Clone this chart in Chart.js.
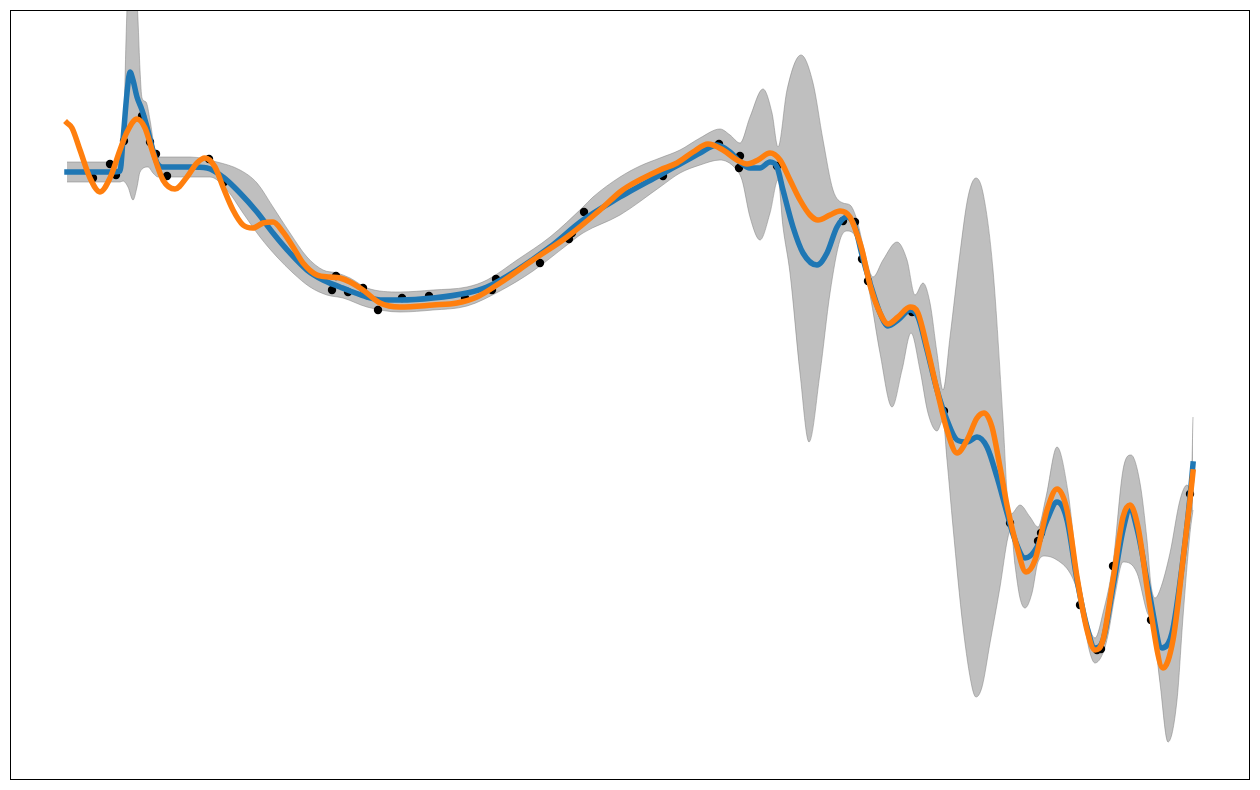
<!DOCTYPE html>
<html>
<head>
<meta charset="utf-8">
<script src="https://cdn.jsdelivr.net/npm/chart.js@4/dist/chart.umd.min.js"></script>
<style>
  html, body { margin: 0; padding: 0; background: #ffffff; }
  canvas { display: block; }
</style>
</head>
<body>
<canvas id="c" width="1260" height="790"></canvas>
<script>
const meanX = [67,90,110,120,123,127,130,133,137,142,147,152,157,162,175,190,207,223,240,257,273,290,307,323,340,350,367,383,400,433,467,487,517,550,583,620,627,660,680,700,717,730,740,750,760,770,777,783,793,803,817,827,837,847,855,862,870,880,888,898,910,918,927,937,947,957,967,977,987,997,1007,1015,1025,1037,1047,1057,1067,1077,1087,1095,1103,1113,1123,1130,1138,1150,1162,1172,1182,1190,1193];
const meanY = [172,172,172,171,140,93,72,80,97,110,127,147,163,167,167,167,168,177,193,212,233,253,270,280,287,291,297,300,300,298,293,287,270,247,220,197,193,175,164,153,145,152,162,168,168,162,167,190,227,253,265,253,227,217,227,255,283,313,326,320,310,317,350,390,420,440,442,437,447,477,513,540,558,547,520,502,520,580,627,648,640,587,530,510,533,597,648,633,567,497,464];

const altX = [67,72,80,90,100,110,120,127,137,145,153,163,175,187,197,205,215,223,233,243,253,263,273,283,293,303,317,330,340,350,363,380,400,433,457,477,500,533,567,600,620,627,660,677,693,708,723,737,747,758,770,780,790,800,810,818,830,840,850,858,862,870,880,888,898,910,918,927,937,947,957,967,977,984,992,1000,1008,1017,1026,1035,1047,1057,1067,1077,1087,1095,1103,1113,1123,1130,1138,1150,1163,1173,1183,1190,1193];
const altY = [123,128,150,178,192,178,150,132,119,128,153,180,189,177,163,158,167,187,210,225,228,223,222,232,247,263,275,277,278,282,290,303,307,305,303,297,283,260,237,210,192,187,170,163,152,144,150,160,164,160,153,160,180,200,215,220,215,211,217,237,250,285,313,324,317,307,313,347,390,430,453,440,418,413,427,467,510,547,572,560,510,489,510,577,630,650,640,580,517,505,527,607,668,640,560,500,472];

const upperX = [67,120,122,124,126,128,132,136,138,140,142,146,150,154,158,190,217,240,257,273,290,307,323,337,350,367,400,433,467,487,517,550,583,593,620,640,660,680,700,720,730,740,750,763,772,778,787,801,813,823,833,843,850,857,863,873,883,897,907,915,923,930,937,943,950,960,968,976,983,993,1003,1008,1011,1020,1030,1038,1046,1057,1068,1075,1080,1087,1095,1103,1113,1123,1131,1140,1147,1151,1155,1160,1170,1180,1187,1191,1193];
const upperY = [162,162,161,120,40,-20,-100,-20,20,70,98,102,120,145,157,157,162,170,183,207,233,257,270,273,278,288,292,290,287,280,260,237,207,197,177,166,158,150,138,129,135,143,117,89,113,147,90,55,83,140,190,203,205,220,245,277,260,242,260,295,283,303,353,390,337,253,197,178,193,270,420,505,514,505,517,527,497,447,492,550,590,620,638,613,563,470,455,483,540,585,598,590,553,500,485,490,417];

const lowerX = [67,120,123,128,133,137,140,148,153,158,210,227,243,260,277,293,310,327,343,367,400,433,467,500,533,567,583,620,660,680,700,720,735,742,750,760,770,778,783,790,800,809,820,830,840,847,855,870,880,892,902,911,920,928,937,943,947,953,963,972,976,982,990,1000,1008,1011,1015,1020,1025,1032,1038,1045,1057,1070,1077,1082,1090,1095,1103,1108,1115,1123,1137,1147,1153,1160,1168,1177,1183,1190,1193];
const lowerY = [182,182,181,187,200,187,172,167,173,177,177,190,213,237,257,273,287,295,298,307,312,310,306,291,271,245,233,215,187,173,165,160,168,180,217,240,213,180,227,273,373,442,373,293,240,231,236,295,353,407,370,333,370,413,431,420,460,527,627,687,697,687,643,587,537,530,565,598,608,593,562,556,560,573,590,612,653,663,653,635,595,562,573,612,625,683,742,700,617,533,510];

const obsX = [93,110,116,124,142,150,156,167,209,224,332,336,348,363,378,402,429,465,492,496,540,569,572,584,663,719,740,739,777,843,855,862,868,912,944,1010,1038,1041,1080,1097,1101,1113,1151,1190];
const obsY = [178,164,175,141,116,142,154,176,159,182,290,276,292,288,310,298,296,298,290,279,263,239,233,212,176,144,156,168,166,221,222,259,281,312,411,523,541,533,605,650,649,566,620,494];

const pts = (xs, ys) => xs.map((x, i) => ({ x: x, y: ys[i] }));

const framePlugin = {
  id: 'frame',
  afterDraw(chart) {
    const a = chart.chartArea, ctx = chart.ctx;
    ctx.save();
    ctx.strokeStyle = '#000000';
    ctx.lineWidth = 1;
    ctx.strokeRect(a.left + 0.5, a.top + 0.5, a.width - 1, a.height - 1);
    ctx.restore();
  }
};

new Chart(document.getElementById('c'), {
  type: 'line',
  data: {
    datasets: [
      { data: pts(lowerX, lowerY), borderColor: 'rgba(128,128,128,0.5)', borderWidth: 1,
        pointRadius: 0, fill: false, cubicInterpolationMode: 'monotone', order: 5, clip: 0 },
      { data: pts(upperX, upperY), borderColor: 'rgba(128,128,128,0.5)', borderWidth: 1,
        backgroundColor: 'rgba(128,128,128,0.5)', pointRadius: 0, fill: '-1',
        cubicInterpolationMode: 'monotone', order: 4, clip: 0 },
      { data: pts(obsX, obsY), showLine: false, pointRadius: 4.2, pointBackgroundColor: '#000000',
        pointBorderWidth: 0, pointBorderColor: '#000000', order: 3 },
      { data: pts(meanX, meanY), borderColor: '#1f77b4', borderWidth: 5.5, pointRadius: 0,
        fill: false, cubicInterpolationMode: 'monotone', borderCapStyle: 'square',
        borderJoinStyle: 'round', order: 2 },
      { data: pts(altX, altY), borderColor: '#ff7f0e', borderWidth: 5.5, pointRadius: 0,
        fill: false, cubicInterpolationMode: 'monotone', borderCapStyle: 'square',
        borderJoinStyle: 'round', order: 1 }
    ]
  },
  options: {
    responsive: false,
    animation: false,
    devicePixelRatio: 1,
    events: [],
    layout: { padding: { left: 10, right: 10, top: 10, bottom: 10 } },
    scales: {
      x: { type: 'linear', min: 10, max: 1250, display: false },
      y: { type: 'linear', min: 10, max: 780, reverse: true, display: false }
    },
    plugins: { legend: { display: false }, tooltip: { enabled: false } }
  },
  plugins: [framePlugin]
});
</script>
</body>
</html>
